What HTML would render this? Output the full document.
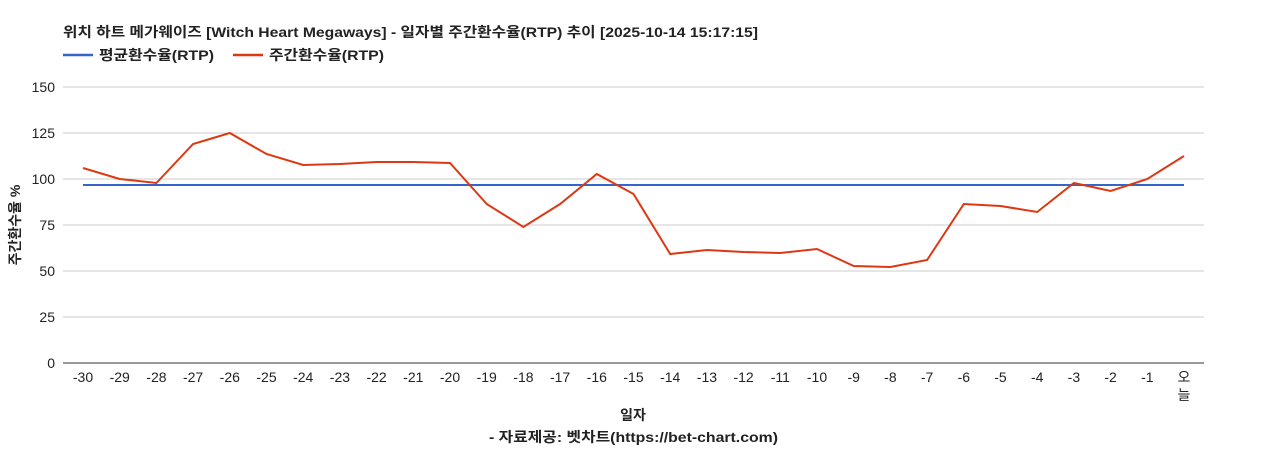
<!DOCTYPE html>
<html><head><meta charset="utf-8"><style>
html,body{margin:0;padding:0;background:#fff;width:1268px;height:450px;overflow:hidden}
svg{display:block}
text{font-family:"Liberation Sans","Noto Sans CJK KR","NanumGothic",sans-serif}
</style></head><body>
<svg width="1268" height="450" xmlns="http://www.w3.org/2000/svg">
<text x="63" y="37" font-size="14" font-weight="bold" fill="#222" textLength="695" lengthAdjust="spacingAndGlyphs">위치 하트 메가웨이즈 [Witch Heart Megaways] - 일자별 주간환수율(RTP) 추이 [2025-10-14 15:17:15]</text>
<line x1="63" y1="55" x2="93" y2="55" stroke="#3366cc" stroke-width="2.5"/>
<text x="99" y="60" font-size="14" font-weight="bold" fill="#222" textLength="115" lengthAdjust="spacingAndGlyphs">평균환수율(RTP)</text>
<line x1="233" y1="55" x2="263" y2="55" stroke="#dc3912" stroke-width="2.5"/>
<text x="269" y="60" font-size="14" font-weight="bold" fill="#222" textLength="115" lengthAdjust="spacingAndGlyphs">주간환수율(RTP)</text>
<g stroke="#cccccc" stroke-width="1">
<line x1="63" y1="87" x2="1204" y2="87"/><line x1="63" y1="133" x2="1204" y2="133"/>
<line x1="63" y1="179" x2="1204" y2="179"/><line x1="63" y1="225" x2="1204" y2="225"/>
<line x1="63" y1="271" x2="1204" y2="271"/><line x1="63" y1="317" x2="1204" y2="317"/>
</g>
<line x1="63" y1="363" x2="1204" y2="363" stroke="#333" stroke-width="1"/>
<g font-size="14" fill="#222" text-anchor="end">
<text x="55" y="92">150</text><text x="55" y="138">125</text><text x="55" y="184">100</text>
<text x="55" y="230">75</text><text x="55" y="276">50</text><text x="55" y="322">25</text><text x="55" y="368">0</text>
</g>
<text transform="translate(20,225) rotate(-90)" font-size="14" font-weight="bold" fill="#222" text-anchor="middle">주간환수율 %</text>
<g font-size="14" fill="#222" text-anchor="middle" id="xl"></g>
<text x="633" y="420" font-size="14" font-weight="bold" fill="#222" text-anchor="middle">일자</text>
<text x="489" y="442" font-size="14" font-weight="bold" fill="#222" textLength="289" lengthAdjust="spacingAndGlyphs">- 자료제공: 벳차트(https://bet-chart.com)</text>
<line x1="83" y1="185" x2="1184" y2="185" stroke="#3366cc" stroke-width="2"/>
<polyline id="pl" fill="none" stroke="#dc3912" stroke-width="2"/>
</svg>
<script>
var ys=[168,179,183,144,133,154,165,164,162,162,163,204,227,204,174,194,254,250,252,253,249,266,267,260,204,206,212,183,191,179,156];
var pts=[],g=document.getElementById('xl'),h='';
for(var i=0;i<31;i++){var x=83+i*36.7;pts.push(x.toFixed(1)+','+ys[i]);
if(i<30)h+='<text x="'+x.toFixed(1)+'" y="382">'+(i-30)+'</text>';
else h+='<text x="'+x.toFixed(1)+'" y="382">오</text><text x="'+x.toFixed(1)+'" y="400">늘</text>';}
g.innerHTML=h;
document.getElementById('pl').setAttribute('points',pts.join(' '));
</script>
</body></html>
